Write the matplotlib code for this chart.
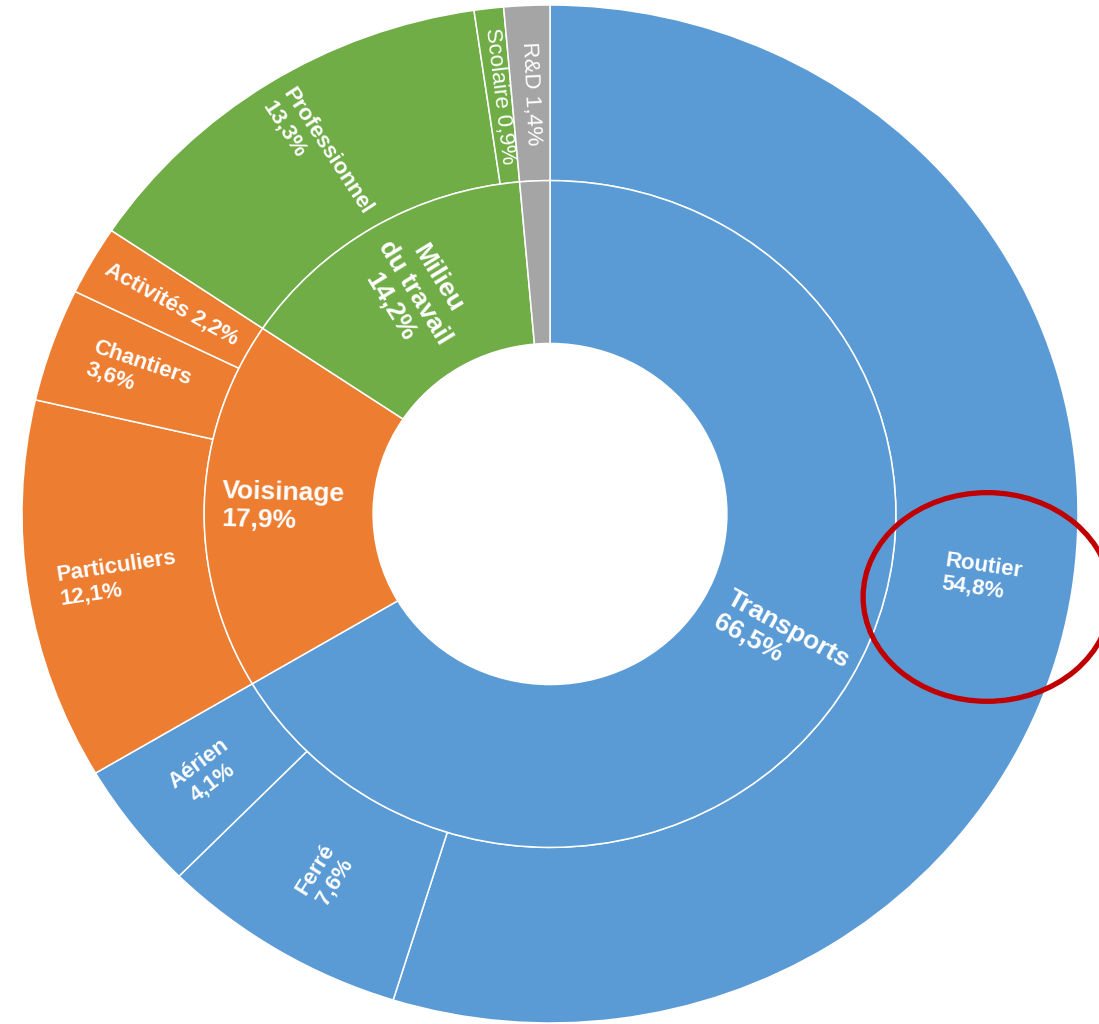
import numpy as np
import matplotlib
matplotlib.use("Agg")
import matplotlib.pyplot as plt
from matplotlib.patches import Ellipse

plt.rcParams['font.family'] = ['Liberation Sans', 'DejaVu Sans']

# anneau intérieur
inner_labels = ["Transports", "Voisinage", "Milieu\ndu travail", ""]
inner_values = [66.5, 17.9, 14.2, 1.4]
inner_colors = ["#5B9BD5", "#ED7D31", "#70AD47", "#A5A5A5"]

# anneau extérieur
outer_labels = ["Routier", "Ferré", "Aérien", "Particuliers", "Chantiers",
                "Activités", "Professionnel", "Scolaire", "R&D"]
outer_values = [54.8, 7.6, 4.1, 12.1, 3.6, 2.2, 13.3, 0.9, 1.4]
outer_colors = ["#5B9BD5", "#5B9BD5", "#5B9BD5", "#ED7D31", "#ED7D31",
                "#ED7D31", "#70AD47", "#70AD47", "#A5A5A5"]
one_line = ["Activités", "Scolaire", "R&D"]
thin = ["Scolaire", "R&D"]
centered = ["Ferré", "Aérien", "Milieu\ndu travail"]

R_OUT, R_MID, R_HOLE = 1.0, 0.655, 0.335
SX, SY = 528, 509   # pixels par unité (image un peu étirée en largeur)


def pct(v):
    return f"{v:.1f}".replace(".", ",") + "%"


def radial_rotation(theta):
    """theta en degrés, sens horaire depuis le haut."""
    t = np.radians(theta)
    ang = np.degrees(np.arctan2(np.cos(t) * SY, np.sin(t) * SX))
    if ang <= -90:
        ang += 180
    elif ang > 90:
        ang -= 180
    return ang


def put_labels(ax, labels, values, radius, size, spacing):
    cum = np.cumsum([0] + values)
    for lab, v, a0, a1 in zip(labels, values, cum[:-1], cum[1:]):
        if not lab:
            continue
        theta = (a0 + a1) / 2 * 3.6
        t = np.radians(theta)
        x, y = radius * np.sin(t), radius * np.cos(t)
        sep = " " if lab in one_line else "\n"
        txt = lab + sep + pct(v)
        weight = "normal" if lab in thin else "bold"
        ax.text(x, y, txt, color="white", fontsize=size, fontweight=weight,
                ha="center", va="center", rotation=radial_rotation(theta),
                rotation_mode="anchor",
                multialignment="center" if lab in centered else "left",
                linespacing=spacing)


fig = plt.figure(figsize=(10.99, 10.24), dpi=100)
ax = fig.add_axes([0, 0, 1, 1])

ax.pie(outer_values, radius=R_OUT, colors=outer_colors, startangle=90,
       counterclock=False,
       wedgeprops=dict(width=R_OUT - R_MID, edgecolor="white", linewidth=1.1))
ax.pie(inner_values, radius=R_MID, colors=inner_colors, startangle=90,
       counterclock=False,
       wedgeprops=dict(width=R_MID - R_HOLE, edgecolor="white", linewidth=1.1))

put_labels(ax, outer_labels, outer_values, (R_OUT + R_MID) / 2, 16, 1.15)
put_labels(ax, inner_labels, inner_values, (R_MID + R_HOLE) / 2 + 0.01, 19, 1.2)

# cercle rouge autour de "Routier"
ax.add_patch(Ellipse((0.828, -0.163), 0.47, 0.41, fill=False,
                     edgecolor="#C00000", linewidth=3.8, clip_on=False))

ax.set_aspect("auto")
ax.set_xlim(-550 / SX, 549 / SX)
ax.set_ylim((514 - 1024) / SY, 514 / SY)
ax.axis("off")

fig.savefig("out.png", dpi=100)
